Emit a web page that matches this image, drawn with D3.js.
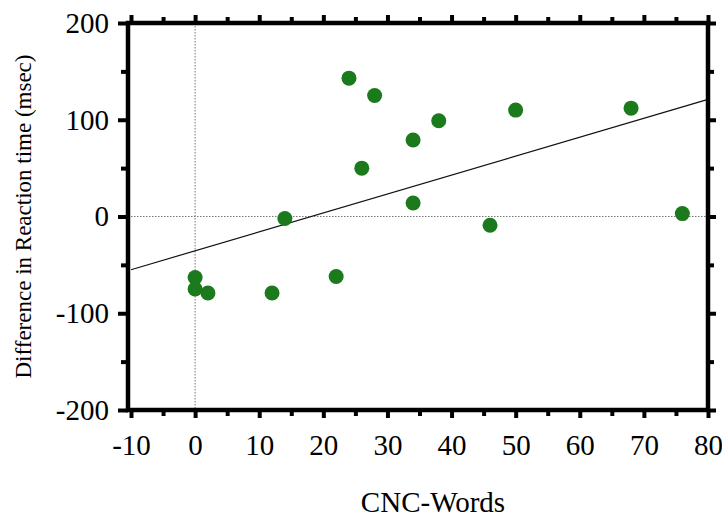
<!DOCTYPE html>
<html>
<head>
<meta charset="utf-8">
<script src="https://cdn.jsdelivr.net/npm/d3@7"></script>
<style>
  body { margin: 0; background: #fff; }
  text { font-family: "Liberation Serif", "Times New Roman", serif; fill: #000; }
</style>
</head>
<body>
<div id="chart"></div>
<script>
// CNC-Words vs difference in reaction time
const cncWords = [0, 0, 2, 12, 14, 22, 24, 26, 28, 34, 34, 38, 46, 50, 68, 76];
const rtDiff = [-63, -75, -79, -79, -2, -62, 143, 50, 125, 79, 14, 99, -9, 110, 112, 3];

const fitX = [-10, 80];
const fitY = [-55, 121];

const xTicks = [-10, 0, 10, 20, 30, 40, 50, 60, 70, 80];
const yTicks = [-200, -100, 0, 100, 200];

const width = 722, height = 520;
const svg = d3.select('#chart').append('svg')
    .attr('width', width)
    .attr('height', height);

const x = d3.scaleLinear().domain([-10, 80]).range([131, 708]);
const y = d3.scaleLinear().domain([-200, 200]).range([410, 23]);

const [x0, x1] = x.range();
const [y0, y1] = y.range();
const frameLeft = x0 - 3;

// plain hyphen for negatives, like the original
const fmt = (d) => String(d);

// zero reference lines
svg.append('line')
    .attr('x1', x(0)).attr('x2', x(0))
    .attr('y1', y1).attr('y2', y0)
    .attr('stroke', '#777').attr('stroke-width', 1)
    .attr('stroke-dasharray', '1.5,1.5');
svg.append('line')
    .attr('x1', frameLeft).attr('x2', x1)
    .attr('y1', y(0)).attr('y2', y(0))
    .attr('stroke', '#777').attr('stroke-width', 1)
    .attr('stroke-dasharray', '1.5,1.5');

// regression line
svg.append('line')
    .attr('x1', x(fitX[0])).attr('y1', y(fitY[0]))
    .attr('x2', x(fitX[1])).attr('y2', y(fitY[1]))
    .attr('stroke', '#111').attr('stroke-width', 1.2);

// points
svg.append('g')
    .selectAll('circle')
    .data(cncWords.map((d, i) => [d, rtDiff[i]]))
    .enter()
    .append('circle')
    .attr('cx', d => x(d[0]))
    .attr('cy', d => y(d[1]))
    .attr('r', 7.5)
    .attr('fill', '#1b7a1b');

// axes: major + minor ticks, all pointing outward
const xMinor = d3.range(-5, 80, 10);
const yMinor = d3.range(-150, 200, 100);

const styleAxis = (g) => {
    g.select('.domain').remove();
    g.selectAll('.tick line').attr('stroke', '#000').attr('stroke-width', 4);
    g.selectAll('text').attr('font-size', 29).attr('font-family', '"Liberation Serif", serif');
};

svg.append('g')
    .attr('transform', `translate(0,${y0})`)
    .call(d3.axisBottom(x).tickValues(xTicks).tickSize(8).tickPadding(16).tickFormat(fmt))
    .call(styleAxis);
svg.append('g')
    .attr('transform', `translate(0,${y0})`)
    .call(d3.axisBottom(x).tickValues(xMinor).tickSize(6).tickFormat(''))
    .call(styleAxis);

svg.append('g')
    .attr('transform', `translate(0,${y1})`)
    .call(d3.axisTop(x).tickValues(xTicks).tickSize(8).tickFormat(''))
    .call(styleAxis);
svg.append('g')
    .attr('transform', `translate(0,${y1})`)
    .call(d3.axisTop(x).tickValues(xMinor).tickSize(6).tickFormat(''))
    .call(styleAxis);

svg.append('g')
    .attr('transform', `translate(${frameLeft},0)`)
    .call(d3.axisLeft(y).tickValues(yTicks).tickSize(10).tickPadding(9).tickFormat(fmt))
    .call(styleAxis);
svg.append('g')
    .attr('transform', `translate(${frameLeft},0)`)
    .call(d3.axisLeft(y).tickValues(yMinor).tickSize(7).tickFormat(''))
    .call(styleAxis);

svg.append('g')
    .attr('transform', `translate(${x1},0)`)
    .call(d3.axisRight(y).tickValues(yTicks).tickSize(8).tickFormat(''))
    .call(styleAxis);
svg.append('g')
    .attr('transform', `translate(${x1},0)`)
    .call(d3.axisRight(y).tickValues(yMinor).tickSize(6).tickFormat(''))
    .call(styleAxis);

// frame
svg.append('rect')
    .attr('x', frameLeft).attr('y', y1)
    .attr('width', x1 - frameLeft).attr('height', y0 - y1)
    .attr('fill', 'none')
    .attr('stroke', '#000').attr('stroke-width', 4.5);

// titles
svg.append('text')
    .attr('x', 433).attr('y', 512)
    .attr('text-anchor', 'middle')
    .attr('font-size', 29)
    .text('CNC-Words');

svg.append('text')
    .attr('transform', `translate(31,${(y0 + y1) / 2}) rotate(-90)`)
    .attr('text-anchor', 'middle')
    .attr('font-size', 23)
    .text('Difference in Reaction time (msec)');
</script>
</body>
</html>
